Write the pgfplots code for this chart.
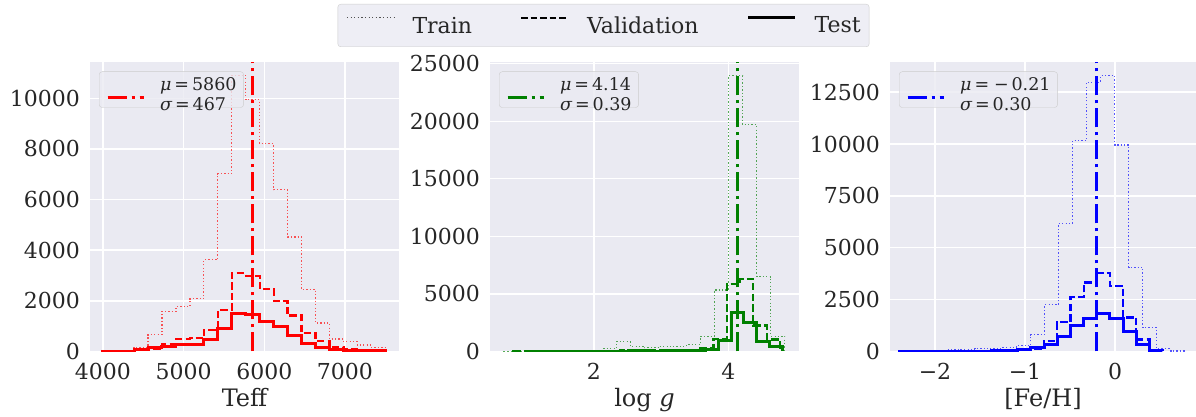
\documentclass[border=0pt]{standalone}
\usepackage{fontspec}
\setmainfont{DejaVu Serif}
\usepackage{pgfplots}
\pgfplotsset{compat=1.18}

\definecolor{axbg}{HTML}{EAEAF2}
\definecolor{ink}{HTML}{262626}
\definecolor{frame}{HTML}{CCCCCC}
\definecolor{cred}{HTML}{FF0000}
\definecolor{cgreen}{HTML}{008000}
\definecolor{cblue}{HTML}{0000FF}

\pgfplotsset{
  panel/.style={
    scale only axis, width=309pt, height=289pt,
    axis background/.style={fill=axbg},
    axis line style={draw=none},
    major tick length=0pt,
    grid=major,
    major grid style={draw=white, line width=1.4pt},
    tick label style={font=\fontsize{22}{26}\selectfont, text=ink},
    /pgf/number format/assume math mode=true,
    /pgf/number format/1000 sep={},
    scaled ticks=false,
    yticklabel style={anchor=east, inner sep=0pt, xshift=-10pt},
    xticklabel style={anchor=base, inner sep=0pt, yshift=-28pt},
    every axis x label/.style={at={(axis description cs:0.5,0)}, anchor=base,
      inner sep=0pt, yshift=-55pt, font=\fontsize{24}{28}\selectfont, text=ink},
    legend style={at={(0,1)}, anchor=north west, xshift=9pt, yshift=-9pt,
      draw=frame, fill=axbg, fill opacity=0.8, text opacity=1, rounded corners=3pt,
      inner xsep=7pt, inner ysep=5pt, column sep=15pt,
      font=\fontsize{17.5}{20}\selectfont, text=ink,
      nodes={inner sep=0pt}},
    legend image code/.code={\draw[##1] (0pt,-8pt) -- (36pt,-8pt);},
  },
  trainh/.style={const plot, mark=none, line width=1.3pt, dash pattern=on 1.3pt off 2.1pt, draw opacity=0.65, forget plot},
  valh/.style={const plot, mark=none, line width=2.2pt, dash pattern=on 7.4pt off 3.2pt, forget plot},
  testh/.style={const plot, mark=none, line width=3pt, forget plot},
  mean/.style={mark=none, line width=3pt, dash pattern=on 19pt off 5pt on 3pt off 5pt},
}

\begin{document}
\begin{tikzpicture}
\useasboundingbox (0pt,0pt) rectangle (1196pt,417pt);

% ---------- Teff ----------
\begin{axis}[panel, at={(90pt,65.5pt)}, anchor=south west,
  xmin=3840, xmax=7670, ymin=0, ymax=11410,
  xtick={4000,5000,6000,7000}, ytick={0,2000,4000,6000,8000,10000},
  xlabel={Teff}]
\addplot[trainh, cred] coordinates {(4000,0) (4000,10) (4213,40) (4386,170) (4559,660) (4732,1580) (4905,1780) (5078,2080) (5251,3620) (5424,7020) (5597,10900) (5770,9940) (5943,8200) (6116,6390) (6289,4520) (6462,2450) (6635,1120) (6808,490) (6981,395) (7154,260) (7327,170) (7500,0)};
\addplot[valh, cred] coordinates {(4000,0) (4000,10) (4213,30) (4386,50) (4559,100) (4732,300) (4905,500) (5078,520) (5251,855) (5424,1645) (5597,3095) (5770,2990) (5943,2460) (6116,2000) (6289,1420) (6462,725) (6635,410) (6808,170) (6981,100) (7154,50) (7327,30) (7500,0)};
\addplot[testh, cred] coordinates {(4000,0) (4000,5) (4213,15) (4386,60) (4559,145) (4732,210) (4905,265) (5078,270) (5251,480) (5424,900) (5597,1515) (5770,1450) (5943,1190) (6116,975) (6289,650) (6462,320) (6635,150) (6808,85) (6981,55) (7154,40) (7327,30) (7500,0)};
\addplot[mean, cred] coordinates {(5860,0) (5860,11410)};
\addlegendentry{\begin{tabular}{@{}l@{}}{\itshape μ}\,=\,5860\\{\itshape σ}\,=\,467\end{tabular}}
\end{axis}

% ---------- log g ----------
\begin{axis}[panel, at={(490pt,65.5pt)}, anchor=south west,
  xmin=0.452, xmax=5.052, ymin=0, ymax=25100,
  xtick={2,4}, ytick={0,5000,10000,15000,20000,25000},
  xlabel={log \textit{g}}]
\addplot[trainh, cgreen] coordinates {(0.660,0) (0.660,10) (0.869,20) (1.078,30) (1.287,40) (1.496,50) (1.705,70) (1.914,90) (2.123,231) (2.332,868) (2.541,463) (2.750,318) (2.959,434) (3.168,463) (3.377,608) (3.586,1330) (3.795,5352) (4.004,23950) (4.213,19700) (4.422,6510) (4.631,1330) (4.840,0)};
\addplot[valh, cgreen] coordinates {(0.800,0) (0.800,5) (0.999,10) (1.197,10) (1.396,15) (1.594,20) (1.793,30) (1.991,40) (2.190,60) (2.388,150) (2.587,100) (2.785,90) (2.984,100) (3.182,110) (3.381,150) (3.579,300) (3.778,1100) (3.976,5870) (4.175,6300) (4.373,2250) (4.572,1050) (4.770,0)};
\addplot[testh, cgreen] coordinates {(1.00,0) (1.00,5) (1.19,5) (1.38,10) (1.57,10) (1.76,15) (1.95,20) (2.14,30) (2.33,40) (2.52,60) (2.71,45) (2.90,40) (3.09,50) (3.28,60) (3.47,80) (3.66,160) (3.85,920) (4.04,3357) (4.23,2545) (4.42,900) (4.61,450) (4.80,0)};
\addplot[mean, cgreen] coordinates {(4.14,0) (4.14,25100)};
\addlegendentry{\begin{tabular}{@{}l@{}}{\itshape μ}\,=\,4.14\\{\itshape σ}\,=\,0.39\end{tabular}}
\end{axis}

% ---------- [Fe/H] ----------
\begin{axis}[panel, width=306pt, at={(890pt,65.5pt)}, anchor=south west,
  xmin=-2.5, xmax=0.9, ymin=0, ymax=13930,
  xtick={-2,-1,0}, xticklabels={−2,−1,0},
  ytick={0,2500,5000,7500,10000,12500},
  xlabel={[Fe/H]}]
\addplot[trainh, cblue] coordinates {(-2.335,0) (-2.335,15) (-2.180,30) (-2.024,50) (-1.869,70) (-1.713,90) (-1.558,130) (-1.403,160) (-1.247,200) (-1.092,289) (-0.936,819) (-0.781,2250) (-0.626,6185) (-0.470,10170) (-0.315,12980) (-0.159,13300) (-0.004,9960) (0.151,4065) (0.307,1141) (0.462,129) (0.618,30) (0.773,0)};
\addplot[valh, cblue] coordinates {(-2.400,0) (-2.400,5) (-2.2535,5) (-2.107,10) (-1.9605,10) (-1.814,15) (-1.6675,20) (-1.521,25) (-1.3745,30) (-1.228,40) (-1.0815,60) (-0.935,130) (-0.7885,497) (-0.642,1414) (-0.4955,2619) (-0.349,3326) (-0.2025,3776) (-0.056,3160) (0.0905,1640) (0.237,578) (0.3835,80) (0.530,0)};
\addplot[testh, cblue] coordinates {(-2.400,0) (-2.400,5) (-2.2535,5) (-2.107,5) (-1.9605,10) (-1.814,10) (-1.6675,15) (-1.521,20) (-1.3745,25) (-1.228,40) (-1.0815,80) (-0.935,177) (-0.7885,322) (-0.642,723) (-0.4955,1253) (-0.349,1574) (-0.2025,1815) (-0.056,1574) (0.0905,980) (0.237,320) (0.3835,60) (0.530,0)};
\addplot[mean, cblue] coordinates {(-0.21,0) (-0.21,13930)};
\addlegendentry{\begin{tabular}{@{}l@{}}{\itshape μ}\,=\;−\,0.21\\{\itshape σ}\,=\,0.30\end{tabular}}
\end{axis}

% ---------- shared line-style key ----------
\begin{axis}[hide axis, scale only axis, width=1196pt, height=417pt,
  at={(0pt,0pt)}, anchor=south west, xmin=0, xmax=1, ymin=0, ymax=1,
  legend columns=3,
  legend style={at={(0.5046,0.9904)}, anchor=north, draw=frame, fill=axbg!80!white,
    rounded corners=3pt, inner xsep=8.5pt, inner ysep=12pt, column sep=18pt,
    /tikz/every even column/.append style={column sep=48pt},
    font=\fontsize{22}{26}\selectfont, text=ink,
    nodes={inner sep=0pt}},
  legend image code/.code={\draw[#1] (0pt,8pt) -- (47pt,8pt);}]
\addlegendimage{line width=1.2pt, dash pattern=on 1.2pt off 2.4pt, color=ink!80}
\addlegendentry{Train}
\addlegendimage{line width=2pt, dash pattern=on 6.5pt off 3pt, color=black}
\addlegendentry{Validation}
\addlegendimage{line width=3pt, color=black}
\addlegendentry{Test}
\end{axis}
\end{tikzpicture}
\end{document}
